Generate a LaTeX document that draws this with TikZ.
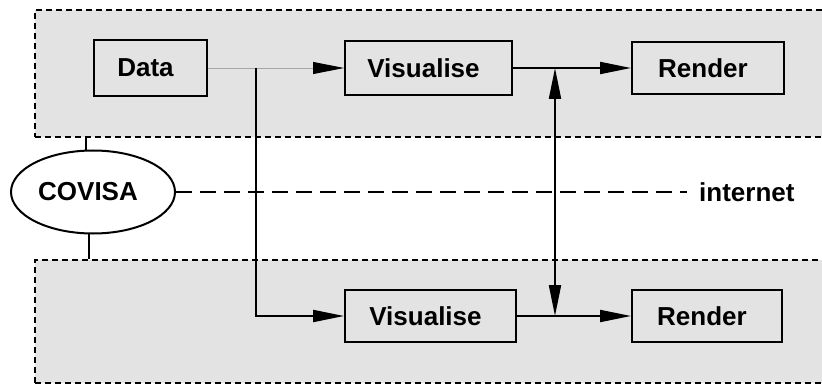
\documentclass[tikz,border=0pt]{standalone}
\usepackage{fontspec}
\setmainfont{Liberation Sans}
\usetikzlibrary{arrows.meta,shapes.geometric}
\definecolor{regiongray}{HTML}{E3E3E3}
\tikzset{
  region/.style={draw=black, fill=regiongray, line width=2pt, dash pattern=on 6pt off 4pt, minimum width=820pt, anchor=north west, inner sep=0pt},
  procbox/.style={draw=black, fill=regiongray, line width=2pt, inner sep=0pt, font=\bfseries\fontsize{26}{31}\selectfont},
  conn/.style={line width=2pt},
  tip/.style={-{Triangle[length=31pt,width=12pt,color=black,fill=black]}},
  dtip/.style={{Triangle[length=31pt,width=12pt]}-{Triangle[length=31pt,width=12pt]}},
  lbl/.style={font=\bfseries\fontsize{26}{31}\selectfont, inner sep=0pt},
}
\newcommand{\lefttext}[1]{#1\kern10pt}
\begin{document}
\begin{tikzpicture}[x=1pt,y=-1pt]
\path[use as bounding box, clip] (0,0) rectangle (822,385);
\node[region, minimum height=127pt] (top) at (34,9) {};
\node[region, minimum height=123pt] (bot) at (34,259) {};
\node[procbox, minimum width=113pt, minimum height=56pt] (data) at (150.5,68) {\lefttext{Data}};
\node[procbox, minimum width=167pt, minimum height=54pt] (vis1) at (428.5,68) {\lefttext{Visualise}};
\node[procbox, minimum width=152pt, minimum height=52pt] (rend1) at (708,68) {\lefttext{Render}};
\node[procbox, minimum width=171pt, minimum height=52pt] (vis2) at (430.5,316) {\lefttext{Visualise}};
\node[procbox, minimum width=150pt, minimum height=52pt] (rend2) at (707,316) {\lefttext{Render}};
\node[ellipse, draw=black, fill=white, line width=2pt, minimum width=164pt, minimum height=83pt, inner sep=0pt, font=\bfseries\fontsize{26}{31}\selectfont] (covisa) at (93,192) {\lefttext{COVISA}};
\node[lbl, anchor=west] (inet) at (699,192) {internet};
\coordinate (j1) at (256,68);
\coordinate (j2) at (555,68);
\coordinate (j3) at (555,316);
% connectors
\draw[conn] (covisa.100) -- (covisa.100 |- top.south);
\draw[conn] (covisa.-95) -- (covisa.-95 |- bot.north);
\draw[conn, dash pattern=on 16pt off 8pt] (covisa.east) -- ([xshift=-12pt]inet.west);
\draw[line width=0.8pt, gray!70, tip] (data.east) -- (vis1.west);
\draw[conn, tip] (j1) |- (vis2.west);
\draw[conn, tip] (vis1.east) -- (rend1.west);
\draw[conn, tip] (vis2.east) -- (rend2.west);
\draw[conn, dtip] (j2) -- (j3);
\end{tikzpicture}
\end{document}
